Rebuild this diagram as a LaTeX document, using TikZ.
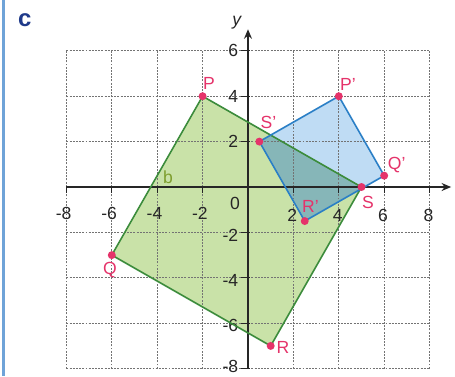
\documentclass[tikz,border=0pt]{standalone}
\usepackage{fontspec}
\setmainfont{Liberation Sans}
\usetikzlibrary{arrows.meta}
\definecolor{gfill}{HTML}{C9E2A8}
\definecolor{gline}{HTML}{3C8C3C}
\definecolor{bfill}{HTML}{BFDCF4}
\definecolor{bline}{HTML}{2A7FC6}
\definecolor{ofill}{HTML}{86B6B8}
\definecolor{ptcol}{HTML}{E5336A}
\definecolor{ccol}{HTML}{1F3A8A}
\definecolor{barcol}{HTML}{6FA3D8}
\definecolor{bcol}{HTML}{7E9E2E}
\tikzset{
  gridline/.style={draw=black!55, line width=0.5pt, dash pattern=on 1.2pt off 0.8pt},
  axisline/.style={draw=black!85, line width=0.9pt},
  tickline/.style={draw=black!85, line width=0.7pt},
  gsq/.style={draw=gline, line width=1pt, line join=round},
  bsq/.style={draw=bline, line width=1pt, line join=round},
  ptdot/.style={circle, fill=ptcol, inner sep=0pt, minimum size=5pt},
  ptlab/.style={text=ptcol, inner sep=0pt},
  numlab/.style={text=black!85, inner sep=0pt}
}
\begin{document}
\begin{tikzpicture}[x=0.5cm,y=0.5cm, font=\fontsize{11}{13}\selectfont]
\useasboundingbox (-10.925,-8.326) rectangle (9.119,8.238);
\fill[white] (-10.925,-8.326) rectangle (9.119,8.238);
\coordinate (bartop) at (-10.78,8.238);
\coordinate (barbot) at (-10.78,-8.326);
\draw[barcol, line width=1.6pt] (bartop) -- (barbot);
\node[text=ccol, font=\fontsize{15}{17}\selectfont\bfseries] (clab) at (-9.83,7.36) {c};

\coordinate (P) at (-2,4);
\coordinate (Q) at (-6,-3);
\coordinate (R) at (1,-7);
\coordinate (S) at (5,0);
\coordinate (Pp) at (4,4);
\coordinate (Qp) at (6,0.5);
\coordinate (Rp) at (2.5,-1.5);
\coordinate (Sp) at (0.5,2);

% fills
\fill[gfill] (P) -- (Q) -- (R) -- (S) -- cycle;
\fill[bfill] (Pp) -- (Qp) -- (Rp) -- (Sp) -- cycle;
\begin{scope}
  \clip (P) -- (Q) -- (R) -- (S) -- cycle;
  \fill[ofill] (Pp) -- (Qp) -- (Rp) -- (Sp) -- cycle;
\end{scope}

% grid
\draw[gridline] (-8,-8) grid[step=2] (8,6);

% axes
\coordinate (xl) at (-8,0);
\coordinate (xr) at (8.95,0);
\coordinate (yb) at (0,-8);
\coordinate (yt) at (0,6.95);
\draw[axisline, -{Stealth[length=6pt,width=5pt]}] (xl) -- (xr);
\draw[axisline, -{Stealth[length=6pt,width=5pt]}] (yb) -- (yt);
\foreach \t in {-8,-6,-4,-2,2,4,6,8} \draw[tickline] (\t,0) -- (\t,-0.28);
\foreach \t in {-8,-6,-4,-2,2,4,6} \draw[tickline] (-0.32,\t) -- (0.1,\t);

% axis labels
\foreach \t in {8,6,4,2} \node[numlab] at (-\t-0.12,-1.15) {-\t};
\foreach \t in {2,4,6,8} \node[numlab] at (\t-0.05,-1.27) {\t};
\foreach \t in {6,4,2} \node[numlab, anchor=east] at (-0.42,\t) {\t};
\foreach \t in {2,4,6} \node[numlab, anchor=east] at (-0.42,-\t-0.12) {-\t};
\node[numlab, anchor=east] at (-0.42,-7.9) {-8};
\node[numlab] (zlab) at (-0.57,-0.72) {0};
\node[numlab, font=\fontsize{11}{13}\selectfont\itshape] (ylab) at (-0.5,7.25) {y};

% outlines
\draw[gsq] (P) -- (Q) -- (R) -- (S) -- cycle;
\draw[bsq] (Pp) -- (Qp) -- (Rp) -- (Sp) -- cycle;

% points
\foreach \p in {P,Q,R,S,Pp,Qp,Rp,Sp} \node[ptdot] at (\p) {};

% point labels
\node[ptlab] (lP) at (-1.72,4.58) {P};
\node[ptlab] (lQ) at (-6.08,-3.66) {Q};
\node[ptlab] (lR) at (1.54,-7.09) {R};
\node[ptlab] (lS) at (5.29,-0.7) {S};
\node[ptlab] (lPp) at (4.4,4.52) {P'};
\node[ptlab] (lQp) at (6.55,0.97) {Q'};
\node[ptlab] (lRp) at (2.75,-0.84) {R'};
\node[ptlab] (lSp) at (0.9,2.86) {S'};
\node[text=bcol] (lb) at (-3.52,0.42) {b};
\end{tikzpicture}
\end{document}
